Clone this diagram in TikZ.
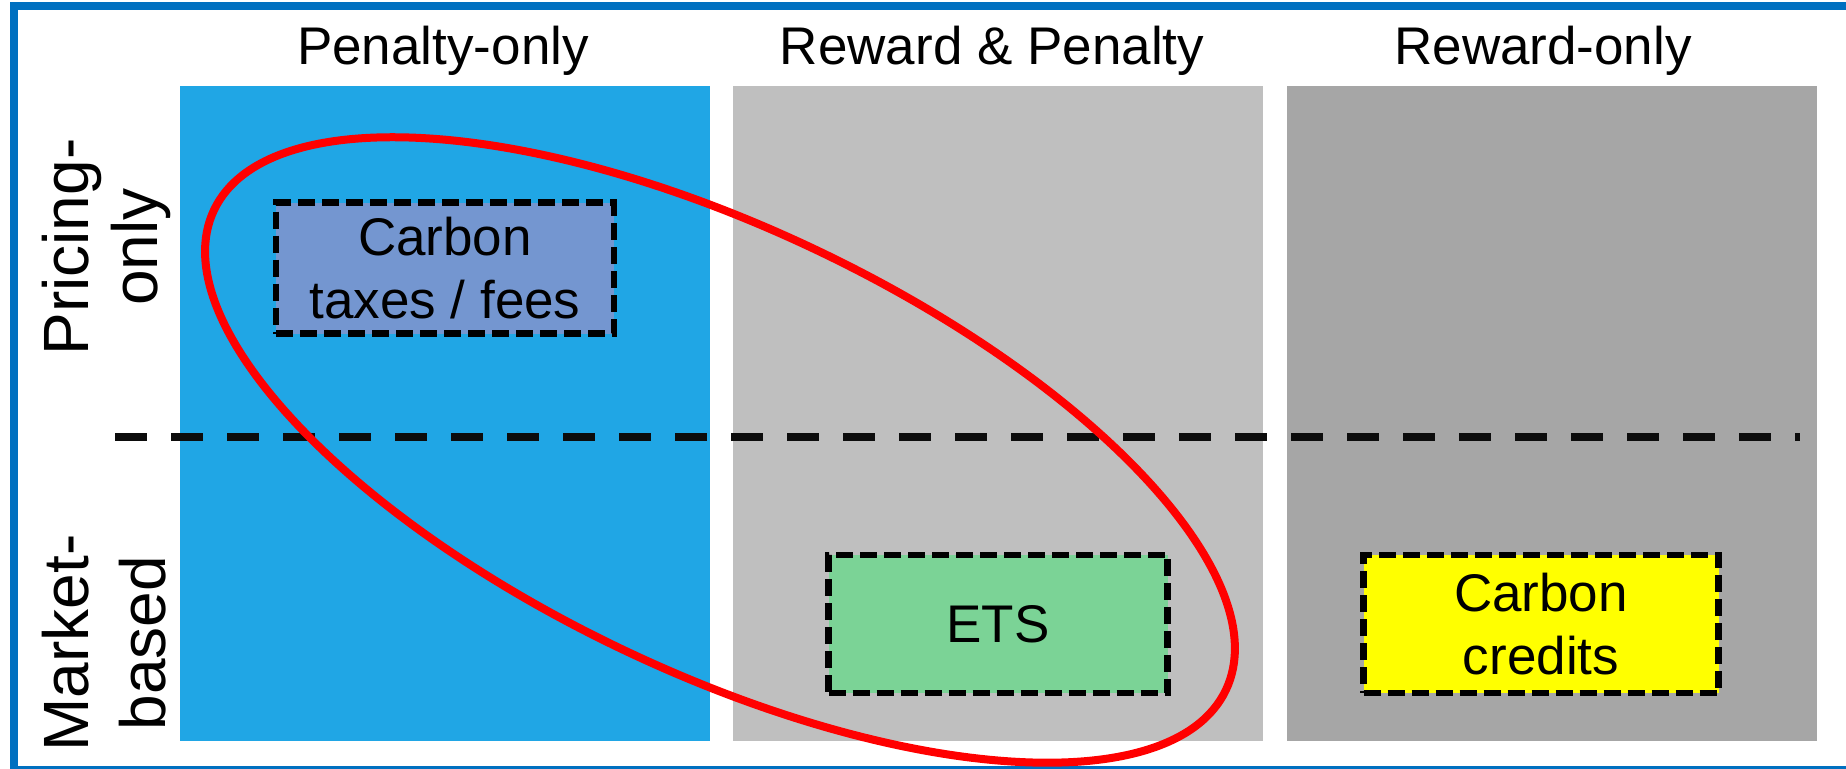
\documentclass[tikz,border=0pt]{standalone}
\usepackage{fontspec}
\setmainfont{Liberation Sans}
\definecolor{framebl}{RGB}{0,112,192}
\definecolor{penblue}{RGB}{32,166,229}
\definecolor{lgray}{RGB}{191,191,191}
\definecolor{dgray}{RGB}{166,166,166}
\definecolor{taxfill}{RGB}{116,150,208}
\definecolor{etsfill}{RGB}{123,211,150}
\definecolor{credfill}{RGB}{255,255,0}
\definecolor{ringred}{RGB}{255,0,0}
\definecolor{dashk}{RGB}{12,12,12}
\begin{document}
\begin{tikzpicture}[x=1pt,y=-1pt,
  colhead/.style={font=\fontsize{53}{60}\selectfont, anchor=base, inner sep=0pt},
  optbox/.style={draw=black, line width=6.2pt, dash pattern=on 17pt off 7pt,
    align=center, inner sep=0pt, font=\fontsize{53}{63}\selectfont},
  rowlabel/.style={rotate=90, align=center, inner sep=0pt},
  sepline/.style={draw=dashk, line width=8pt, dash pattern=on 32pt off 24pt},
  redring/.style={draw=ringred, line width=8pt}]
\useasboundingbox (0,0) rectangle (1846,768);
\clip (0,0) rectangle (1846,768);
\fill[white] (0,0) rectangle (1846,768);
% frame
\draw[framebl, line width=8pt] (14,6) rectangle (1852,770);
% columns
\fill[penblue] (180,86) rectangle (710,741);
\fill[lgray] (733,86) rectangle (1263,741);
\fill[dgray] (1287,86) rectangle (1817,741);
% headers
\node[colhead] (hpen) at (443,65) {Penalty-only};
\node[colhead] (hboth) at (992,65) {Reward \& Penalty};
\node[colhead] (hrew) at (1543,65) {Reward-only};
% row labels
\node[rowlabel, font=\fontsize{64}{69}\selectfont] (rprice) at (106,247) {Pricing-\\only};
\node[rowlabel, font=\fontsize{64}{77}\selectfont] (rmarket) at (104,643) {Market-\\based};
% boxes
\node[optbox, fill=taxfill, minimum width=338pt, minimum height=131pt] (tax) at (445,268) {Carbon\\taxes / fees};
\node[optbox, fill=etsfill, minimum width=339pt, minimum height=138pt] (ets) at (998,624) {ETS};
\node[optbox, fill=credfill, minimum width=355pt, minimum height=138pt] (cred) at (1541,624) {Carbon\\credits};
% separator
\coordinate (sl) at (115,437);
\coordinate (sr) at (1800,437);
\draw[sepline] (sl) -- (sr);
% red ring
\coordinate (ringc) at (720,450);
\draw[redring, rotate around={-25.37:(ringc)}] (ringc) ellipse [x radius=560, y radius=222];
\end{tikzpicture}
\end{document}
